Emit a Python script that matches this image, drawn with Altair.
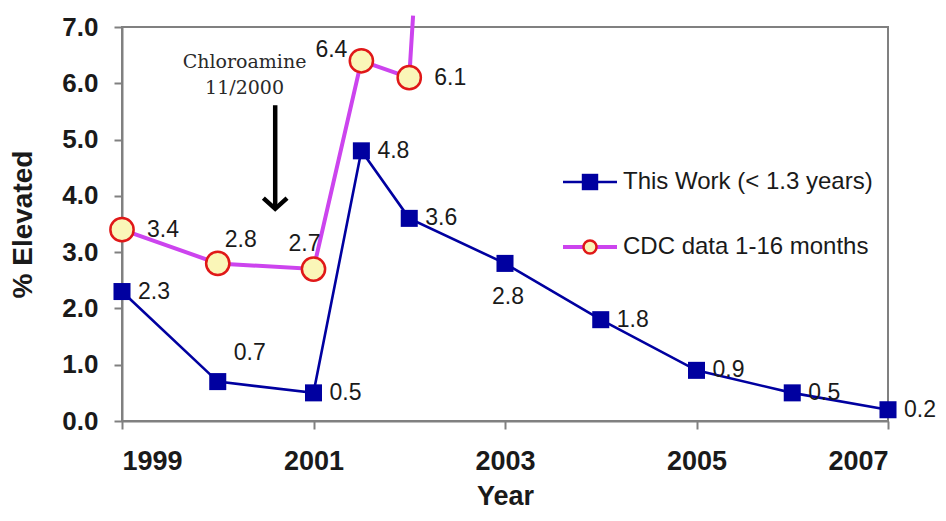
import altair as alt
import pandas as pd

# ---- data ----
years_work = [1999, 2000, 2001, 2001.5, 2002, 2003, 2004, 2005, 2006, 2007]
values_work = [2.3, 0.7, 0.5, 4.8, 3.6, 2.8, 1.8, 0.9, 0.5, 0.2]

years_cdc = [1999, 2000, 2001, 2001.5, 2002]
values_cdc = [3.4, 2.8, 2.7, 6.4, 6.1]

# CDC line leaves the plot after 2002 (visible part only)
cdc_exit_years = [2002, 2002.04]
cdc_exit_values = [6.1, 7.2]

x_ticks = [1999, 2001, 2003, 2005, 2007]
y_ticks = [0, 1, 2, 3, 4, 5, 6, 7]
series_names = ["This Work (< 1.3 years)", "CDC data 1-16 months"]
annotation_lines = ["Chloroamine", "11/2000"]

work = pd.DataFrame({"year": years_work, "value": values_work})
cdc = pd.DataFrame({"year": years_cdc, "value": values_cdc})
cdc_exit = pd.DataFrame({"year": cdc_exit_years, "value": cdc_exit_values})
one = pd.DataFrame({"k": [0]})

BLUE = "#0000a0"
MAGENTA = "#cc44ee"
RED = "#e01818"
YELLOW = "#faf6b8"
TXT = "#1a1a1a"
FONT = "Liberation Sans"

X = alt.X("year:Q",
          scale=alt.Scale(domain=[1999, 2007], nice=False, zero=False),
          axis=alt.Axis(values=x_ticks, format="d", title="Year",
                        labelFontSize=27, labelFontWeight="bold",
                        labelPadding=19, titleFontSize=27, titleFontWeight="bold",
                        titlePadding=9))
Y = alt.Y("value:Q",
          scale=alt.Scale(domain=[0, 7], nice=False),
          axis=alt.Axis(values=y_ticks, format=".1f", title="% Elevated",
                        labelFontSize=26, labelFontWeight="bold",
                        labelPadding=16, titleFontSize=28, titleFontWeight="bold",
                        titlePadding=24))

work_line = alt.Chart(work).mark_line(color=BLUE, strokeWidth=2.6).encode(x=X, y=Y)
work_pts = alt.Chart(work).mark_point(shape="square", filled=True, color=BLUE,
                                      size=290, opacity=1).encode(x=X, y=Y)

cdc_exit_line = alt.Chart(cdc_exit).mark_line(color=MAGENTA, strokeWidth=4).encode(x=X, y=Y)
cdc_line = alt.Chart(cdc).mark_line(color=MAGENTA, strokeWidth=4).encode(x=X, y=Y)
cdc_pts = alt.Chart(cdc).mark_point(shape="circle", filled=True, fill=YELLOW,
                                    stroke=RED, strokeWidth=2.5, size=540,
                                    opacity=1).encode(x=X, y=Y)


def labels(df, years, dx, dy, align):
    return alt.Chart(df).mark_text(
        dx=dx, dy=dy, align=align, baseline="middle",
        fontSize=23, font=FONT, color=TXT
    ).encode(x=X, y=Y, text=alt.Text("value:Q", format=".1f")).transform_filter(
        alt.FieldOneOfPredicate(field="year", oneOf=years))


label_layers = [
    labels(work, [1999, 2001, 2001.5, 2002, 2004, 2005, 2006, 2007], 16, 0, "left"),
    labels(work, [2000], 16, -29, "left"),
    labels(work, [2003], 3, 34, "center"),
    labels(cdc, [1999, 2002], 25, 0, "left"),
    labels(cdc, [2000], 23, -23, "center"),
    labels(cdc, [2001], -9, -25, "center"),
    labels(cdc, [2001.5], -14, -11, "right"),
]

# ---- annotation: text and arrow ----
note = alt.Chart(one).mark_text(
    text=annotation_lines, lineHeight=26, fontSize=19, font="DejaVu Serif",
    color="#2a2a2a", align="center", baseline="middle"
).encode(x=alt.datum(2000.28), y=alt.datum(6.38))

shaft = alt.Chart(one).mark_rule(color="black", strokeWidth=4.5).encode(
    x=alt.datum(2000.6), y=alt.datum(5.61), y2=alt.datum(3.80))
head = alt.Chart(one).mark_point(
    shape="M-1,-0.9L0,0L1,-0.9", filled=False, stroke="black", strokeWidth=4.5,
    size=560, opacity=1
).encode(x=alt.datum(2000.6), y=alt.datum(3.77))

# ---- legend drawn inside the plot ----
LX0, LX1, LMX, LTX = 441, 495, 468, 501
LY1, LY2 = 155, 220
leg = [
    alt.Chart(one).mark_rule(color=BLUE, strokeWidth=2.6).encode(
        x=alt.value(LX0), x2=alt.value(LX1), y=alt.value(LY1)),
    alt.Chart(one).mark_point(shape="square", filled=True, color=BLUE, size=270,
                              opacity=1).encode(x=alt.value(LMX), y=alt.value(LY1)),
    alt.Chart(one).mark_text(align="left", baseline="middle", fontSize=24, font=FONT,
                             color=TXT, text=series_names[0]).encode(
        x=alt.value(LTX), y=alt.value(LY1)),
    alt.Chart(one).mark_rule(color=MAGENTA, strokeWidth=4).encode(
        x=alt.value(LX0), x2=alt.value(LX1), y=alt.value(LY2)),
    alt.Chart(one).mark_point(shape="circle", filled=True, fill=YELLOW, stroke=RED,
                              strokeWidth=2.5, size=170, opacity=1).encode(
        x=alt.value(LMX), y=alt.value(LY2)),
    alt.Chart(one).mark_text(align="left", baseline="middle", fontSize=24, font=FONT,
                             color=TXT, text=series_names[1]).encode(
        x=alt.value(LTX), y=alt.value(LY2)),
]

chart = alt.layer(
    work_line, cdc_exit_line, cdc_line, work_pts, cdc_pts,
    *label_layers, note, shaft, head, *leg
).properties(
    width=766, height=394,
    autosize=alt.AutoSizeParams(type="none"),
    padding={"left": 114, "top": 19, "right": 50, "bottom": 92},
    background="white",
).configure_view(
    stroke="#808080", strokeWidth=2
).configure_axis(
    grid=False, domainColor="#808080", domainWidth=2, tickColor="#808080",
    tickWidth=2, tickSize=8, labelFont=FONT, titleFont=FONT,
    labelColor=TXT, titleColor=TXT
)

chart.save("out.html", embed_options={"renderer": "svg", "actions": False})
